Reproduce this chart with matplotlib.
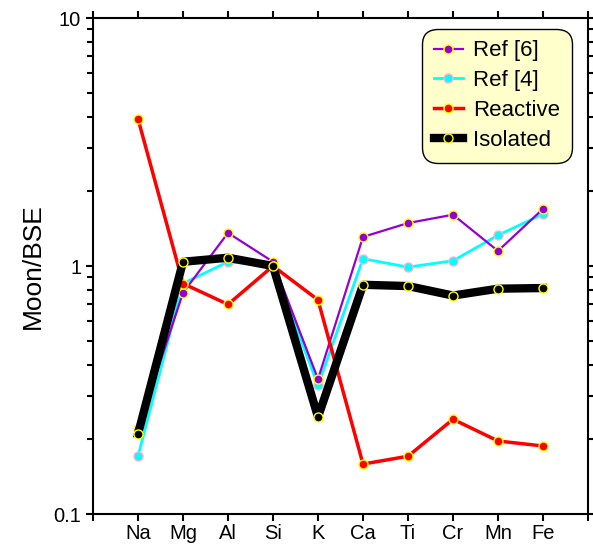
import matplotlib
matplotlib.use("Agg")
import matplotlib.pyplot as plt
from matplotlib.ticker import LogLocator, NullFormatter, FixedLocator

plt.rcParams['font.family'] = ['Liberation Sans', 'DejaVu Sans']

elements = ["Na", "Mg", "Al", "Si", "K", "Ca", "Ti", "Cr", "Mn", "Fe"]
ref6 = [0.22, 0.78, 1.36, 1.04, 0.35, 1.31, 1.49, 1.61, 1.15, 1.70]
ref4 = [0.171, 0.85, 1.04, 1.0, 0.33, 1.07, 0.99, 1.05, 1.33, 1.62]
reactive = [3.92, 0.85, 0.70, 1.0, 0.73, 0.159, 0.171, 0.241, 0.197, 0.188]
isolated = [0.21, 1.04, 1.08, 1.0, 0.246, 0.84, 0.83, 0.76, 0.81, 0.815]

x = list(range(1, len(elements) + 1))

fig = plt.figure(figsize=(5.93, 5.46), dpi=100)
ax = fig.add_axes([93 / 593, 1 - 514 / 546, (588 - 93) / 593, (514 - 18) / 546])

ax.plot(x, ref6, color="#9400d3", lw=1.6, marker="o", ms=6.5,
        mfc="#9400d3", mec="#ffff00", mew=1.0, label="Ref [6]", zorder=3)
ax.plot(x, ref4, color="#00ffff", lw=2.0, marker="o", ms=6.5,
        mfc="#00ffff", mec="#ffb0d0", mew=1.0, label="Ref [4]", zorder=2)
ax.plot(x, reactive, color="#ff0000", lw=2.5, marker="o", ms=6.5,
        mfc="#ff0000", mec="#ffff00", mew=1.0, label="Reactive", zorder=4)
ax.plot(x, isolated, color="black", lw=6, marker="o", ms=6.5,
        mfc="black", mec="#ffff00", mew=1.0, label="Isolated", zorder=5)

ax.set_yscale("log")
ax.set_ylim(0.1, 10)
ax.set_xlim(0, len(elements) + 1)
ax.xaxis.set_major_locator(FixedLocator(range(0, len(elements) + 2)))
ax.set_xticklabels([""] + elements + [""])
ax.yaxis.set_minor_locator(LogLocator(base=10, subs=range(2, 10), numticks=20))
ax.yaxis.set_minor_formatter(NullFormatter())
ax.set_yticks([0.1, 1, 10])
ax.set_yticklabels(["0.1", "1", "10"])

ax.tick_params(which="both", direction="out", top=True, right=True,
               labelsize=14.5, width=1.5)
ax.tick_params(which="major", length=5)
ax.tick_params(which="minor", length=4.5)
ax.tick_params(axis="x", pad=2)
for s in ax.spines.values():
    s.set_linewidth(1.5)

ax.set_ylabel("Moon/BSE", fontsize=19, labelpad=6)

leg = ax.legend(loc="upper right", fontsize=16, fancybox=True, framealpha=1,
                facecolor="#ffffcc", edgecolor="black", handlelength=1.3,
                handletextpad=0.45, borderpad=0.28, labelspacing=0.4,
                bbox_to_anchor=(0.978, 0.99))
leg.get_frame().set_linewidth(1.0)
leg.get_frame().set_boxstyle("round", pad=0.25, rounding_size=0.7)

fig.savefig("out.png", dpi=100)
